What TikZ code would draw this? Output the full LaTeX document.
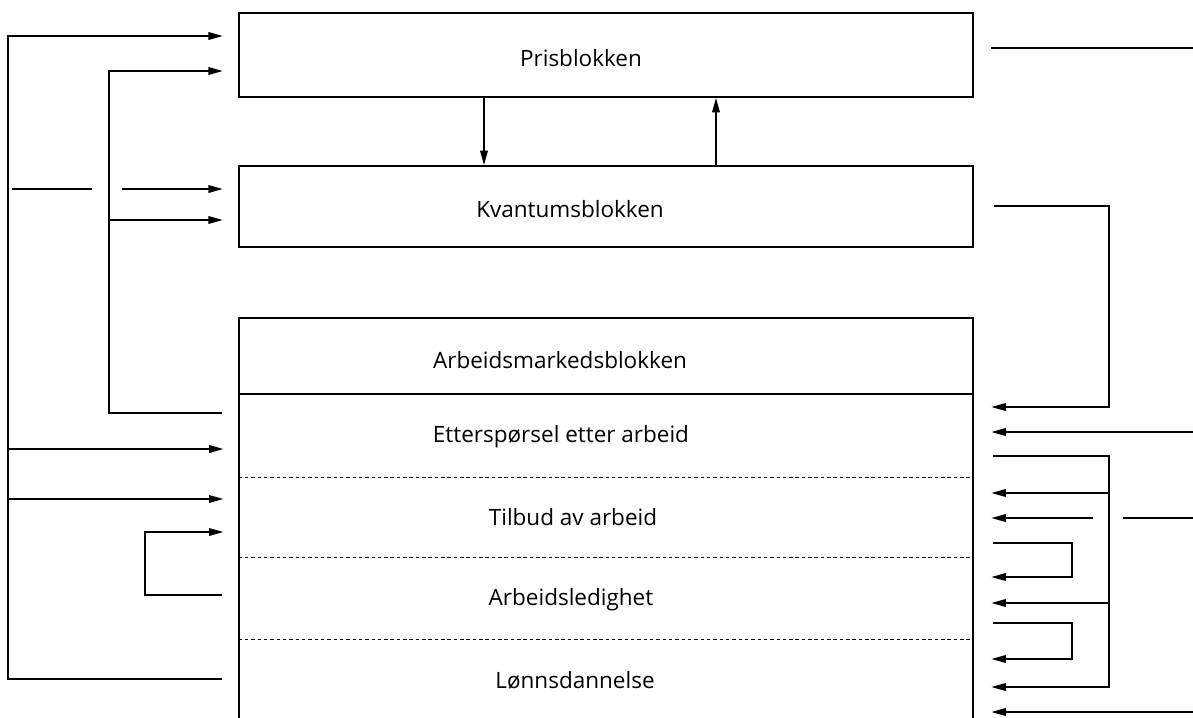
\documentclass[tikz,border=0pt]{standalone}
\usepackage{fontspec}
\setmainfont{Open Sans}
\usetikzlibrary{positioning,arrows.meta}
\tikzset{
  blokk/.style={draw, line width=1.3pt, minimum width=18.35cm, inner sep=0pt},
  felt/.style={minimum width=18.35cm, inner sep=0pt},
  tekst/.style={anchor=base, inner sep=0pt, font=\fontsize{16}{19}\selectfont},
  pil/.style={line width=1.1pt, -{Triangle[length=3.6mm,width=1.9mm]}},
  linje/.style={line width=1.1pt},
  skille/.style={line width=0.7pt, dash pattern=on 2.5pt off 2pt}
}
\begin{document}
\begin{tikzpicture}[x=0.025cm,y=-0.025cm]
  \useasboundingbox (0,0) rectangle (1193,718);
  % blokkene
  \node[blokk, minimum height=2.1cm] (pris) at (606,55) {};
  \node[blokk, minimum height=2.025cm] (kvant) at (606,206.5) {};
  \node[blokk, minimum height=1.9cm] (arbhead) at (606,356) {};
  \node[felt, minimum height=2.05cm, below=0pt of arbhead] (ettersp) {};
  \node[felt, minimum height=1.975cm, below=0pt of ettersp] (tilbud) {};
  \node[felt, minimum height=2.05cm, below=0pt of tilbud] (ledig) {};
  \node[felt, minimum height=2.025cm, below=0pt of ledig] (lonn) {};
  \draw[line width=1.3pt] (ettersp.north west) -- (lonn.south west);
  \draw[line width=1.3pt] (ettersp.north east) -- (lonn.south east);
  \foreach \r in {ettersp,tilbud,ledig}
    \draw[skille] (\r.south west) -- (\r.south east);
  % tekstene
  \node[tekst] (pristxt) at (581,66) {Prisblokken};
  \node[tekst] (kvanttxt) at (570,217) {Kvantumsblokken};
  \node[tekst] (arbtxt) at (560,368) {Arbeidsmarkedsblokken};
  \node[tekst] (etterspt) at (561,442) {Etterspørsel etter arbeid};
  \node[tekst] (tilbudt) at (573,525) {Tilbud av arbeid};
  \node[tekst] (ledigt) at (571,605) {Arbeidsledighet};
  \node[tekst] (lonnt) at (575,688) {Lønnsdannelse};
  % mellom pris og kvantum
  \draw[pil] (pris.south -| 484,0) -- (kvant.north -| 484,0);
  \draw[pil] (kvant.north -| 716,0) -- (pris.south -| 716,0);
  % venstre side
  \draw[pil, shorten <=0.42cm, shorten >=0.38cm] (lonn.west |- 0,679) -| (8,36) -- (pris.west |- 0,36);
  \draw[pil, shorten >=0.38cm] (8,449) -- (ettersp.west |- 0,449);
  \draw[pil, shorten >=0.38cm] (8,499) -- (tilbud.west |- 0,499);
  \draw[pil, shorten <=0.42cm, shorten >=0.38cm] (ettersp.west |- 0,413) -| (109,71) -- (pris.west |- 0,71);
  \draw[pil, shorten >=0.38cm] (109,220) -- (kvant.west |- 0,220);
  \draw[linje] (12,189) -- (92,189);
  \draw[pil, shorten >=0.38cm] (122,189) -- (kvant.west |- 0,189);
  \draw[pil, shorten <=0.42cm, shorten >=0.38cm] (ledig.west |- 0,595) -| (145,532) -- (tilbud.west |- 0,532);
  % hoyre side
  \draw[linje, shorten <=0.43cm] (pris.east |- 0,48) -- (1193,48);
  \draw[pil, shorten <=0.5cm, shorten >=0.45cm] (kvant.east |- 0,206) -| (1109,407) -- (ettersp.east |- 0,407);
  \draw[pil, shorten >=0.45cm] (1193,432) -- (ettersp.east |- 0,432);
  \draw[pil, shorten <=0.5cm, shorten >=0.45cm] (ettersp.east |- 0,456) -| (1109,687) -- (lonn.east |- 0,687);
  \draw[pil, shorten >=0.45cm] (1109,493) -- (tilbud.east |- 0,493);
  \draw[pil, shorten >=0.45cm] (1109,603) -- (ledig.east |- 0,603);
  \draw[linje] (1193,518) -- (1123,518);
  \draw[pil, shorten >=0.45cm] (1093,518) -- (tilbud.east |- 0,518);
  \draw[pil, shorten <=0.5cm, shorten >=0.45cm] (tilbud.east |- 0,543) -| (1072,577) -- (ledig.east |- 0,577);
  \draw[pil, shorten <=0.5cm, shorten >=0.45cm] (ledig.east |- 0,623) -| (1072,659) -- (lonn.east |- 0,659);
  \draw[pil, shorten >=0.45cm] (1193,712) -- (lonn.east |- 0,712);
\end{tikzpicture}
\end{document}
